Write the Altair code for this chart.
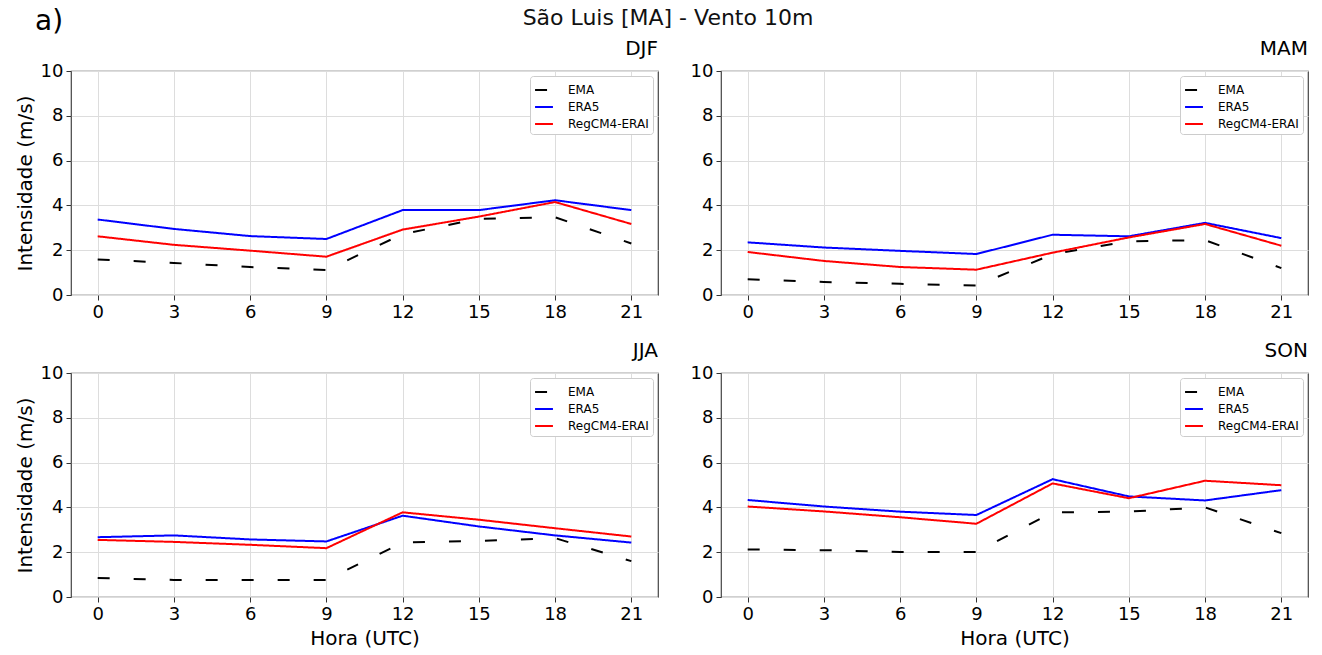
import altair as alt
import pandas as pd

hours = [0, 3, 6, 9, 12, 15, 18, 21]
y_ticks = [0, 2, 4, 6, 8, 10]
series_names = ["EMA", "ERA5", "RegCM4-ERAI"]
series_colors = ["black", "#0000ff", "#ff0000"]
seasons = ["DJF", "MAM", "JJA", "SON"]
main_title = ["São Luis [MA] - Vento 10m"]
panel_label = ["a)"]

djf_ema = [1.59, 1.43, 1.25, 1.11, 2.72, 3.40, 3.47, 2.30]
djf_era5 = [3.37, 2.95, 2.63, 2.50, 3.79, 3.79, 4.23, 3.79]
djf_regcm = [2.62, 2.24, 1.98, 1.71, 2.92, 3.50, 4.15, 3.17]

mam_ema = [0.70, 0.58, 0.50, 0.42, 1.82, 2.40, 2.45, 1.20]
mam_era5 = [2.35, 2.12, 1.97, 1.83, 2.69, 2.62, 3.22, 2.54]
mam_regcm = [1.92, 1.52, 1.25, 1.13, 1.89, 2.57, 3.17, 2.20]

jja_ema = [0.85, 0.76, 0.76, 0.76, 2.43, 2.50, 2.63, 1.60]
jja_era5 = [2.67, 2.75, 2.57, 2.48, 3.63, 3.15, 2.75, 2.43]
jja_regcm = [2.55, 2.46, 2.33, 2.18, 3.78, 3.45, 3.07, 2.70]

son_ema = [2.12, 2.09, 2.01, 2.01, 3.78, 3.81, 4.00, 2.85]
son_era5 = [4.33, 4.04, 3.81, 3.66, 5.26, 4.49, 4.31, 4.77]
son_regcm = [4.04, 3.82, 3.56, 3.27, 5.07, 4.41, 5.19, 4.99]

table = {
    "DJF": [djf_ema, djf_era5, djf_regcm],
    "MAM": [mam_ema, mam_era5, mam_regcm],
    "JJA": [jja_ema, jja_era5, jja_regcm],
    "SON": [son_ema, son_era5, son_regcm],
}

rows = []
for season in seasons:
    for name, vals in zip(series_names, table[season]):
        for h, v in zip(hours, vals):
            rows.append({"season": season, "serie": name, "hora": h, "valor": v})
df = pd.DataFrame(rows)

FONT = "DejaVu Sans"
W, H = 587, 224


def panel(season, ytitle, xtitle):
    d = df[df.season == season]
    leg = alt.Legend(
        title=None, orient="top-right", offset=5, fillColor="white",
        strokeColor="#cccccc", cornerRadius=3, padding=4,
        symbolType="stroke", symbolSize=320, symbolStrokeWidth=2,
        labelFontSize=12, labelFont=FONT, labelColor="black", rowPadding=1,
        labelOffset=14,
    )
    x = alt.X("hora:Q", scale=alt.Scale(domain=[-1.05, 22.05], nice=False, zero=False),
              axis=alt.Axis(values=hours, title="Hora (UTC)" if xtitle else None))
    y = alt.Y("valor:Q", scale=alt.Scale(domain=[0, 10], nice=False),
              axis=alt.Axis(values=y_ticks,
                            title="Intensidade (m/s)" if ytitle else None))
    lines = alt.Chart(d).mark_line(strokeWidth=2).encode(
        x=x, y=y,
        color=alt.Color("serie:N", scale=alt.Scale(domain=series_names, range=series_colors), legend=leg),
        strokeDash=alt.StrokeDash("serie:N", scale=alt.Scale(domain=series_names,
                                                              range=[[12, 24], [1, 0], [1, 0]]), legend=leg),
        detail="serie:N",
    )
    return lines.properties(
        width=W, height=H,
        title=alt.TitleParams(season, anchor="end", fontSize=20, fontWeight="normal",
                              font=FONT, offset=3, color="black"),
    )


lbl = alt.Chart(pd.DataFrame({"t": panel_label})).mark_text(
    fontSize=28, align="left", baseline="middle", font=FONT, color="black"
).encode(text="t:N", x=alt.value(-36), y=alt.value(22))
ttl = alt.Chart(pd.DataFrame({"t": main_title})).mark_text(
    fontSize=22, align="center", baseline="middle", font=FONT, color="#111111"
).encode(text="t:N", x=alt.value(597), y=alt.value(18))
header = alt.layer(lbl, ttl).properties(
    width=2 * W + 63, height=48, view=alt.ViewBackground(strokeOpacity=0)
)

indep = dict(color="independent", strokeDash="independent")

grid = alt.concat(
    panel("DJF", True, False), panel("MAM", False, False),
    panel("JJA", True, True), panel("SON", False, True),
    columns=2, spacing={"row": 78, "column": 63}, bounds="flush",
).resolve_scale(**indep).resolve_legend(**indep)

chart = alt.vconcat(header, grid, spacing=23, bounds="flush").resolve_scale(**indep).resolve_legend(
    **indep).properties(
    padding={"left": 14, "top": 0, "right": 10, "bottom": 5},
    background="white",
).configure_axis(
    labelFont=FONT, titleFont=FONT, labelFontSize=18, titleFontSize=20,
    titleFontWeight="normal", labelColor="black", titleColor="black",
    gridColor="#dddddd", domain=False, tickColor="#333333", tickSize=5,
    labelPadding=3, titlePadding=5,
).configure_view(
    stroke="#444444", strokeWidth=1.2
)

chart.save("out.html", embed_options={"renderer": "svg", "actions": False})
